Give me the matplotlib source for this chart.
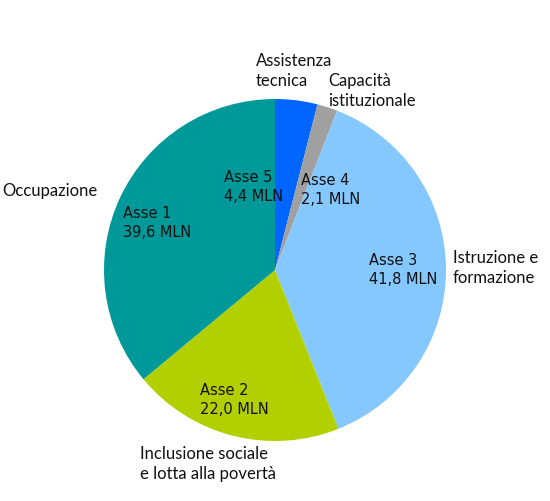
import numpy as np
import matplotlib
matplotlib.use("Agg")
import matplotlib.pyplot as plt

# values in million euro, clockwise from the top
assi = ["Asse 5", "Asse 4", "Asse 3", "Asse 2", "Asse 1"]
valori = [4.4, 2.1, 41.8, 22.0, 39.6]
nomi = ["Assistenza\ntecnica", "Capacità\nistituzionale", "Istruzione e\nformazione",
        "Inclusione sociale\ne lotta alla povertà", "Occupazione"]
colori = ["#0066ff", "#a0a0a0", "#85c8ff", "#b2d000", "#009999"]

# label anchors in pixels (top-left of each text block)
pos_interni = [(224, 170), (301, 173), (369, 253), (200, 383), (123, 206)]
pos_esterni = [(256, 53), (328, 73), (453, 250), (140, 446), (2, 183)]

W, H = 550, 501
fig = plt.figure(figsize=(W / 100, H / 100), dpi=100)
ax = fig.add_axes([0, 0, 1, 1])

ax.pie(valori, colors=colori, startangle=90, counterclock=False,
       center=(275, H - 270), radius=171, frame=True,
       wedgeprops=dict(linewidth=0))
ax.set_xlim(0, W)
ax.set_ylim(0, H)
ax.set_aspect("equal")
ax.axis("off")

for a, v, (x, y) in zip(assi, valori, pos_interni):
    testo = "%s\n%s MLN" % (a, ("%.1f" % v).replace(".", ","))
    ax.text(x, H - y, testo, ha="left", va="top", fontsize=10.5,
            family="DejaVu Sans", linespacing=1.35, color="#111111")

for n, (x, y) in zip(nomi, pos_esterni):
    ax.text(x, H - y, n, ha="left", va="top", fontsize=12,
            family="Lato", linespacing=1.3, color="#111111")

fig.savefig("out.png", dpi=100)
